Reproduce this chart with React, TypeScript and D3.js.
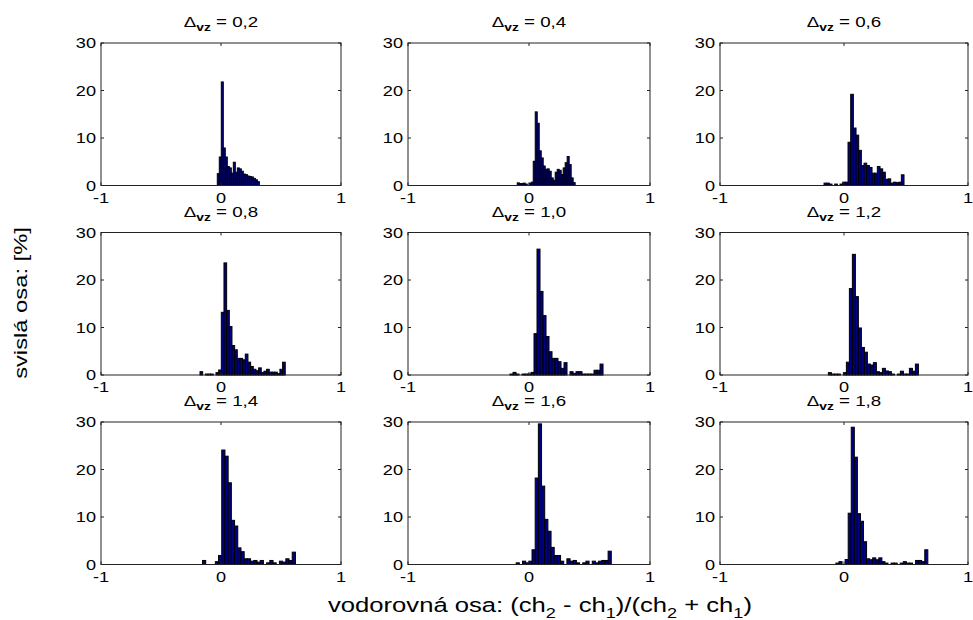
import React from "react";
import * as d3 from "d3";

// ---- data (percent per bin) ----
const deltaLabels = ["0,2", "0,4", "0,6", "0,8", "1,0", "1,2", "1,4", "1,6", "1,8"];

const hist02 = [2.5, 6, 21.8, 7.9, 6, 4, 3.7, 2.6, 4.9, 2.8, 3.7, 3.5, 3, 2.4, 2.3, 2, 1.9, 1.8, 1.5, 1.2, 0.8];
const hist04 = [0.56, 0.4, 0.4, 0.5, 0.3, 0, 0.5, 0.7, 5.1, 15.5, 13.1, 7.3, 5.8, 4.1, 3.4, 3.5, 3, 1.6, 1.1, 2.8, 3.4, 3.2, 2.3, 3.7, 4.8, 6.1, 4.4, 1.6, 0.6];
const hist06 = [0.5, 0.5, 0.3, 0, 0.3, 0, 0.3, 0.7, 0.7, 9.1, 19.2, 12.1, 10.6, 7.4, 4.2, 4.7, 4.2, 3.8, 2.6, 2.6, 4, 3.5, 2.8, 1.3, 1.4, 0.5, 0.7, 0.6, 0.7, 2.25];
const hist08 = [0.7, 0, 0.2, 0.2, 0.2, 0, 0.5, 1.05, 13.2, 23.6, 13.6, 10.2, 6.2, 5.3, 3.5, 3.5, 3.2, 4.4, 2.7, 1.8, 1.2, 0.9, 1.5, 0.5, 0.8, 1.2, 0.6, 0.6, 0.6, 0.3, 1.2, 2.7];
const hist10 = [0.2, 0.55, 0.2, 0, 0.2, 0.2, 0.2, 0.55, 8.7, 26.5, 17.6, 12.5, 8.1, 4.9, 3.5, 3.5, 2.8, 1.4, 2.6, 0, 0.7, 0.35, 0.7, 0.7, 0.2, 0.2, 0.2, 0.2, 1.0, 1.0, 2.3];
const hist12 = [0.5, 0.2, 0.2, 0.2, 0, 0.5, 2.7, 18.2, 25.4, 16.5, 9.9, 5.8, 4.8, 2.3, 2.1, 2.6, 0.7, 0.5, 1.4, 0.85, 0.7, 0.2, 0, 0.2, 0.8, 0.2, 0.2, 1.4, 0.8, 2.3];
const hist14 = [0.85, 0, 0, 0, 0.6, 1.9, 24.1, 22.8, 17.2, 9.3, 8.1, 3.5, 2.7, 1.2, 1.2, 0.7, 0.85, 0.5, 0.85, 0, 0.35, 0.85, 0.35, 0, 0.7, 0.5, 1.2, 0.85, 2.6];
const hist16 = [0.35, 0, 0.7, 0.35, 0.7, 3.1, 18.2, 29.6, 16.5, 9.5, 7, 3.6, 1.9, 1.9, 0.7, 0, 1.2, 0.7, 0.85, 0.35, 0, 0.35, 0.7, 0, 0.7, 0.35, 0.7, 0.85, 0.85, 2.8];
const hist18 = [0.3, 0.6, 0, 1.05, 10.8, 28.9, 22.6, 10.7, 9.1, 4.8, 1.2, 1, 1.4, 1, 1.4, 0.6, 0.3, 0, 0.3, 0.3, 0, 0.3, 0.6, 0.3, 0.3, 0, 0.85, 0.85, 0.6, 3.1];

const histograms = [hist02, hist04, hist06, hist08, hist10, hist12, hist14, hist16, hist18];
const binStart = [-0.031, -0.097, -0.161, -0.175, -0.157, -0.126, -0.154, -0.106, -0.065];
const binWidth = [0.0167, 0.0165, 0.0215, 0.0222, 0.0248, 0.0242, 0.0267, 0.0262, 0.0247];

const xTicks = [-1, 0, 1];
const yTicks = [0, 10, 20, 30];

// ---- layout ----
const W = 973;
const H = 620;
const colLeft = [101, 408, 720];
const colRight = [341, 650, 968];
const rowTop = [43, 232.5, 422];
const rowBottom = [185.5, 375, 564.5];
const SX = 1.25;
const FONT = "'Liberation Sans', Arial, Helvetica, sans-serif";
const TICK = 3;

function Txt(props: {
  x: number; y: number; size: number; anchor?: string; rotate?: number; children: React.ReactNode; weight?: string;
}) {
  const { x, y, size, anchor = "start", rotate = 0, children, weight } = props;
  return (
    <text
      transform={`translate(${x},${y}) rotate(${rotate}) scale(${SX},1)`}
      fontSize={size}
      fontFamily={FONT}
      textAnchor={anchor}
      fontWeight={weight}
      fill="#000"
    >
      {children}
    </text>
  );
}

function Panel({ idx }: { idx: number }) {
  const c = idx % 3;
  const r = Math.floor(idx / 3);
  const x = d3.scaleLinear().domain([-1, 1]).range([colLeft[c], colRight[c]]);
  const y = d3.scaleLinear().domain([0, 30]).range([rowBottom[r], rowTop[r]]);
  const data = histograms[idx];
  const x0 = binStart[idx];
  const w = binWidth[idx];
  return (
    <g>
      {data.map((v, i) =>
        v > 0 ? (
          <rect
            key={i}
            x={x(x0 + i * w)}
            y={y(v)}
            width={x(x0 + (i + 1) * w) - x(x0 + i * w)}
            height={y(0) - y(v)}
            fill="#000080"
            stroke="#000"
            strokeWidth={1}
          />
        ) : null
      )}
      <rect
        x={colLeft[c]}
        y={rowTop[r]}
        width={colRight[c] - colLeft[c]}
        height={rowBottom[r] - rowTop[r]}
        fill="none"
        stroke="#222"
        strokeWidth={1}
      />
      {yTicks.map((t) => (
        <g key={"y" + t}>
          <line x1={colLeft[c]} x2={colLeft[c] + TICK} y1={y(t)} y2={y(t)} stroke="#222" />
          <line x1={colRight[c]} x2={colRight[c] - TICK} y1={y(t)} y2={y(t)} stroke="#222" />
          <Txt x={colLeft[c] - 5} y={y(t) + 5} size={14.5} anchor="end">
            {String(t)}
          </Txt>
        </g>
      ))}
      {xTicks.map((t) => (
        <g key={"x" + t}>
          <line x1={x(t)} x2={x(t)} y1={rowBottom[r]} y2={rowBottom[r] - TICK} stroke="#222" />
          <line x1={x(t)} x2={x(t)} y1={rowTop[r]} y2={rowTop[r] + TICK} stroke="#222" />
          <Txt x={x(t)} y={rowBottom[r] + 17} size={14.5} anchor="middle">
            {String(t)}
          </Txt>
        </g>
      ))}
      <Txt x={(colLeft[c] + colRight[c]) / 2} y={rowTop[r] - 16} size={15} anchor="middle">
        {"\u0394"}
        <tspan dy={4} fontSize={11} fontWeight="bold">vz</tspan>
        <tspan dy={-4}>{" = " + deltaLabels[idx]}</tspan>
      </Txt>
    </g>
  );
}

export default function App() {
  return (
    <div style={{ position: "absolute", left: 0, top: 0 }}>
      <svg width={W} height={H} viewBox={`0 0 ${W} ${H}`} style={{ display: "block", background: "#fff" }}>
        <rect x={0} y={0} width={W} height={H} fill="#fff" />
        {histograms.map((_, i) => (
          <Panel key={i} idx={i} />
        ))}
        <Txt x={27} y={303} size={19} anchor="middle" rotate={-90}>
          svislá osa: [%]
        </Txt>
        <Txt x={540} y={612} size={20.5} anchor="middle">
          vodorovná osa: (ch
          <tspan dy={6} fontSize={14.5}>2</tspan>
          <tspan dy={-6}> - ch</tspan>
          <tspan dy={6} fontSize={14.5}>1</tspan>
          <tspan dy={-6}>)/(ch</tspan>
          <tspan dy={6} fontSize={14.5}>2</tspan>
          <tspan dy={-6}> + ch</tspan>
          <tspan dy={6} fontSize={14.5}>1</tspan>
          <tspan dy={-6}>)</tspan>
        </Txt>
      </svg>
    </div>
  );
}
